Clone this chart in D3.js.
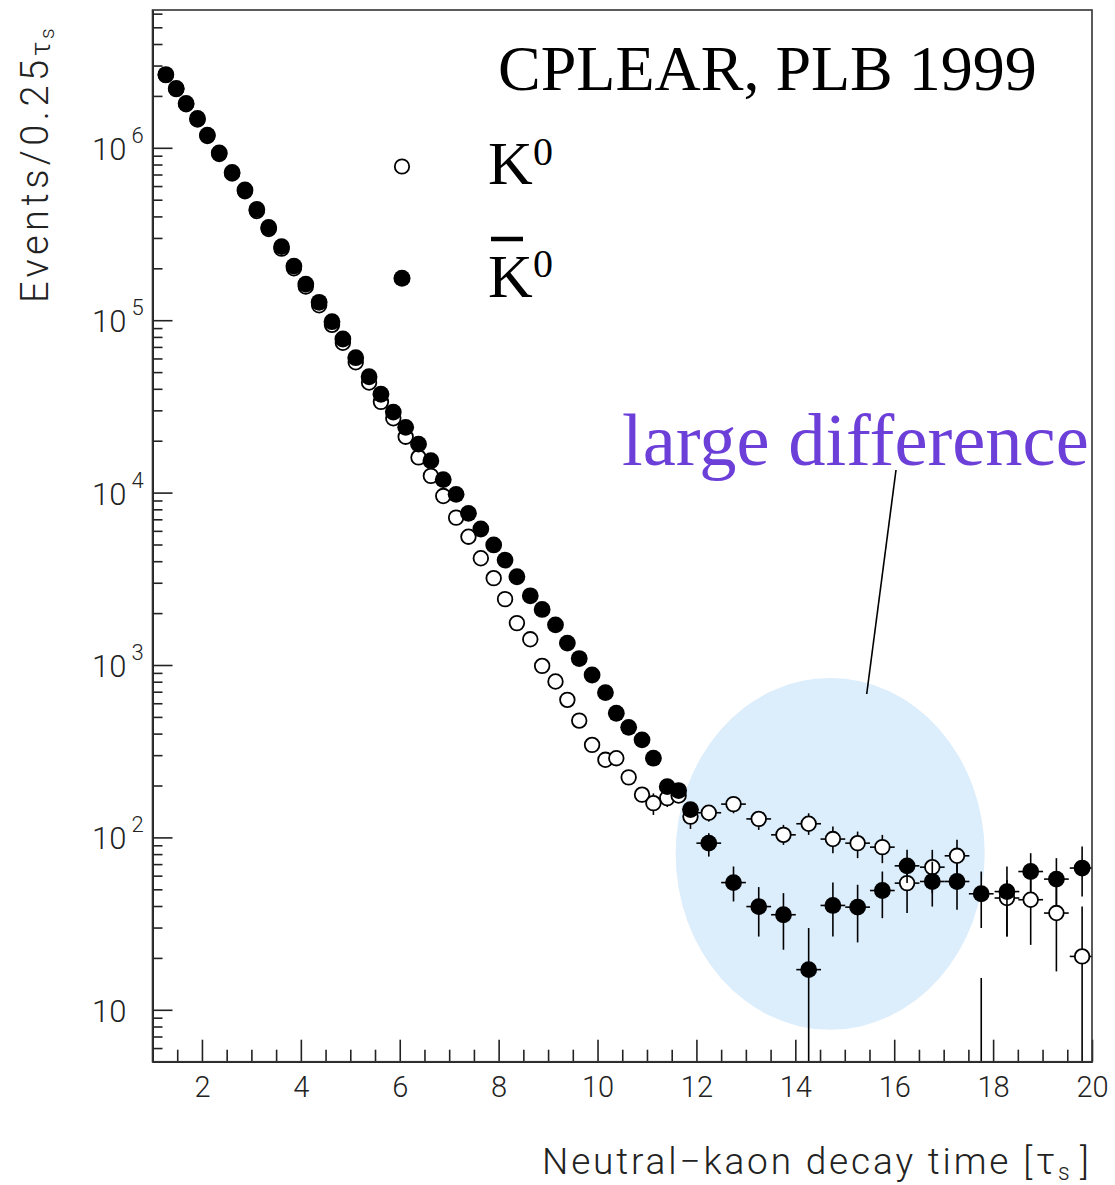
<!DOCTYPE html>
<html>
<head>
<meta charset="utf-8">
<title>CPLEAR neutral-kaon decay time</title>
<style>
    body { margin: 0; padding: 0; background: #fff; }
    svg { display: block; }
</style>
</head>
<body>
<svg width="1115" height="1185"></svg>
<script src="https://d3js.org/d3.v7.min.js"></script>
<script>
// decay-time bins of 0.25 tau_s up to ~12, then 0.5 tau_s
var headT = [1.27, 1.48, 1.68, 1.91, 2.11, 2.35, 2.61, 2.87, 3.11, 3.35, 3.61, 3.86, 4.10, 4.37, 4.63, 4.85,
    5.11, 5.38, 5.62, 5.87, 6.12, 6.38, 6.63, 6.88, 7.14, 7.39, 7.64, 7.90, 8.13, 8.37, 8.64, 8.88,
    9.15, 9.39, 9.63, 9.89, 10.16, 10.38, 10.63, 10.90, 11.13, 11.41, 11.64, 11.88];
var headHalf = 0.125;

var kbarHead = [2.66e6, 2.21e6, 1.81e6, 1.48e6, 1.185e6, 9.35e5, 7.2e5, 5.69e5, 4.39e5, 3.45e5,
    2.67e5, 2.06e5, 1.62e5, 1.27e5, 9.8e4, 7.78e4, 6.06e4, 4.7e4, 3.72e4, 2.93e4,
    2.39e4, 1.91e4, 1.53e4, 1.19e4, 9770, 7580, 6150, 4970, 4060, 3250,
    2520, 2100, 1710, 1340, 1090, 875, 692, 525, 435, 368, 288, 197, 187, 145];

var k0Head = [2.64e6, 2.19e6, 1.79e6, 1.46e6, 1.17e6, 9.2e5, 7.1e5, 5.6e5, 4.3e5, 3.38e5,
    2.6e5, 2.0e5, 1.57e5, 1.22e5, 9.4e4, 7.4e4, 5.7e4, 4.35e4, 3.36e4, 2.70e4,
    2.11e4, 1.60e4, 1.25e4, 9550, 7160, 5550, 4160, 3190, 2410, 1750,
    1410, 988, 802, 628, 476, 344, 282, 288, 223, 177, 158, 169, 175, 132];

// the few K0 error bars in the 0.25 bins that stick out of the markers
var k0HeadBars = [
    {i: 39, lo: 160, hi: 195},
    {i: 40, lo: 135, hi: 180},
    {i: 41, lo: 150, hi: 185},
    {i: 43, lo: 112, hi: 150}
];

var tailT = [12.25, 12.75, 13.26, 13.76, 14.27, 14.76, 15.26, 15.76, 16.26, 16.77, 17.27, 17.76, 18.28, 18.76, 19.28, 19.80];
var tailHalf = 0.25;

var kbarTail   = [92.6, 54.7, 39.7, 35.6, 17.1, 40.3, 39.4, 49.2, 68.4, 55.5, 55.5, 47.1, 48.5, 63.4, 57.3, 66.4];
var kbarTailLo = [77.4, 42.5, 26.6, 22.3, null, 26.6, 24.6, 34.0, 54.3, 39.7, 38.0, 29.8, 26.6, 48.3, 40.6, 45.4];
var kbarTailHi = [105.8, 67.8, 51.5, 47.5, 29.8, 54.7, 53.1, 63.4, 84.7, 72.4, 70.9, 63.4, 67.8, 81.0, 75.8, 88.5];

var k0Tail   = [139, 156, 128, 103.5, 120, 97.8, 92.6, 87.8, 54.3, 67.2, 78.2, null, 44.5, 43.5, 36.4, 20.4];
var k0TailLo = [123.5, 138, 110.6, 90.5, 103.4, 81, 75.8, 70.9, 36.4, 47.5, 54.3, null, 26.6, 23.8, 16.7, null];
var k0TailHi = [154, 172.5, 141, 118.2, 138, 115.6, 108.1, 103.4, 63.4, 84.7, 96.8, 15.3, 56.7, 56.7, 53.1, 39.7];

var xMajor = [2, 4, 6, 8, 10, 12, 14, 16, 18, 20];
var yMajor = [10, 100, 1e3, 1e4, 1e5, 1e6];

// highlighted region, in data units
var blob = {t0: 11.58, t1: 17.83, n0: 7.66, n1: 841};

var FONT = "Roboto, 'Liberation Sans', sans-serif";
var SERIF = "'Liberation Serif', 'Times New Roman', serif";

var svg = d3.select("svg");
var pLeft = 152.5, pRight = 1092, pTop = 10, pBottom = 1061.7;

var x = d3.scaleLinear().domain([1, 20]).range([pLeft, pRight]);
var y = d3.scaleLog().domain([5, 6.3e6]).range([pBottom, pTop]);

svg.append("defs").append("clipPath").attr("id", "plot")
    .append("rect").attr("x", pLeft).attr("y", pTop)
    .attr("width", pRight - pLeft).attr("height", pBottom - pTop);

// light blue ellipse behind the data
var ecx = (x(blob.t0) + x(blob.t1)) / 2, ecy = (y(blob.n0) + y(blob.n1)) / 2;
svg.append("ellipse")
    .attr("cx", ecx).attr("cy", ecy)
    .attr("rx", (x(blob.t1) - x(blob.t0)) / 2)
    .attr("ry", (y(blob.n0) - y(blob.n1)) / 2)
    .attr("fill", "#dcedfc");

function rows(ts, vs, los, his, half) {
    return ts.map(function (t, i) {
        return {t: t, v: vs[i], lo: los ? los[i] : null, hi: his ? his[i] : null, half: half};
    });
}

var k0Rows = rows(headT, k0Head, null, null, headHalf)
    .concat(rows(tailT, k0Tail, k0TailLo, k0TailHi, tailHalf));
k0HeadBars.forEach(function (b) { k0Rows[b.i].lo = b.lo; k0Rows[b.i].hi = b.hi; });
var kbarRows = rows(headT, kbarHead, null, null, headHalf)
    .concat(rows(tailT, kbarTail, kbarTailLo, kbarTailHi, tailHalf));

function yy(v) { return v == null ? pBottom + 20 : y(v); }

var plot = svg.append("g").attr("clip-path", "url(#plot)");

function drawSeries(data, filled) {
    var g = plot.append("g").attr("stroke", "#000").attr("stroke-width", 1.6);
    // vertical error bars
    g.selectAll("line.v")
        .data(data.filter(function (d) { return d.hi != null; }))
        .enter().append("line")
        .attr("x1", function (d) { return x(d.t); })
        .attr("x2", function (d) { return x(d.t); })
        .attr("y1", function (d) { return yy(d.lo); })
        .attr("y2", function (d) { return yy(d.hi); });
    // horizontal bars (bin width)
    g.selectAll("line.h")
        .data(data.filter(function (d) { return d.v != null; }))
        .enter().append("line")
        .attr("x1", function (d) { return x(d.t - d.half); })
        .attr("x2", function (d) { return x(d.t + d.half); })
        .attr("y1", function (d) { return y(d.v); })
        .attr("y2", function (d) { return y(d.v); });
    g.selectAll("circle")
        .data(data.filter(function (d) { return d.v != null; }))
        .enter().append("circle")
        .attr("cx", function (d) { return x(d.t); })
        .attr("cy", function (d) { return y(d.v); })
        .attr("r", filled ? 8.4 : 7.3)
        .attr("fill", filled ? "#000" : "#fff")
        .attr("stroke-width", filled ? 0 : 1.8);
}

drawSeries(k0Rows, false);
drawSeries(kbarRows, true);

// axes, ticks pointing inwards
var axisColor = "#222";
var xMinor = d3.range(1.5, 20, 0.5).filter(function (v) { return xMajor.indexOf(v) < 0; });

var gx = svg.append("g").attr("transform", "translate(0," + pBottom + ")");
gx.append("g").call(d3.axisBottom(x).tickValues(xMinor).tickSizeInner(-12).tickSizeOuter(0).tickFormat(""));
gx.append("g").call(d3.axisBottom(x).tickValues(xMajor).tickSizeInner(-22).tickSizeOuter(0)
    .tickPadding(15).tickFormat(d3.format("d")));
gx.selectAll("g").attr("font-family", FONT).attr("font-size", 29).attr("color", axisColor);
gx.selectAll("text").attr("font-weight", 300);

var yMinor = y.ticks().filter(function (v) {
    var l = Math.log10(v);
    return Math.abs(l - Math.round(l)) > 1e-6;
});
var gy = svg.append("g").attr("transform", "translate(" + pLeft + ",0)");
gy.append("g").call(d3.axisLeft(y).tickValues(yMinor).tickSizeInner(-10).tickSizeOuter(0).tickFormat(""));
gy.append("g").call(d3.axisLeft(y).tickValues(yMajor).tickSizeInner(-20).tickSizeOuter(0).tickFormat(""));
gy.selectAll("g").attr("color", axisColor);
svg.selectAll(".tick line").attr("stroke-width", 1.6);
svg.selectAll(".domain").attr("stroke-width", 1.8);

// 10^n labels
var ylab = svg.append("g").attr("font-family", FONT).attr("font-weight", 300).attr("fill", axisColor);
ylab.selectAll("text.base").data(yMajor).enter().append("text")
    .attr("x", pLeft - 26).attr("y", function (d) { return y(d) + 12; })
    .attr("text-anchor", "end").attr("font-size", 31).text("10");
ylab.selectAll("text.exp").data(yMajor.filter(function (d) { return d > 10; })).enter().append("text")
    .attr("x", pLeft - 21).attr("y", function (d) { return y(d) - 5; })
    .attr("font-size", 22).text(function (d) { return Math.round(Math.log10(d)); });

// frame
svg.append("rect")
    .attr("x", pLeft).attr("y", pTop)
    .attr("width", pRight - pLeft).attr("height", pBottom - pTop)
    .attr("fill", "none").attr("stroke", "#333").attr("stroke-width", 1.6);

// axis titles
var xt = svg.append("g").attr("font-family", FONT).attr("font-weight", 300).attr("fill", axisColor);
xt.append("text").attr("x", 542).attr("y", 1174).attr("font-size", 37)
    .attr("textLength", 490).attr("lengthAdjust", "spacing")
    .text("Neutral\u2212kaon decay time [");
xt.append("text").attr("x", 1036).attr("y", 1174).attr("font-size", 37).text("\u03c4");
xt.append("text").attr("x", 1058).attr("y", 1180).attr("font-size", 23).text("s");
xt.append("text").attr("x", 1080).attr("y", 1174).attr("font-size", 37).text("]");

var yt = svg.append("g").attr("font-family", FONT).attr("font-weight", 300).attr("fill", axisColor)
    .attr("transform", "translate(48.3,303) rotate(-90)");
yt.append("text").attr("x", 0).attr("y", 0).attr("font-size", 38)
    .attr("textLength", 243).attr("lengthAdjust", "spacing")
    .text("Events/0.25");
yt.append("text").attr("x", 247).attr("y", 2).attr("font-size", 28).text("\u03c4");
yt.append("text").attr("x", 264).attr("y", 6).attr("font-size", 21).text("s");

// title and legend
svg.append("text").attr("x", 498).attr("y", 90)
    .attr("font-family", SERIF).attr("font-size", 64).attr("fill", "#000")
    .text("CPLEAR, PLB 1999");

var legend = svg.append("g").attr("font-family", SERIF).attr("fill", "#000");
legend.append("circle").attr("cx", 402).attr("cy", 166.5).attr("r", 7.2)
    .attr("fill", "#fff").attr("stroke", "#000").attr("stroke-width", 1.8);
legend.append("circle").attr("cx", 402).attr("cy", 278.3).attr("r", 8.5).attr("fill", "#000");
legend.append("text").attr("x", 488).attr("y", 184.3).attr("font-size", 62).text("K");
legend.append("text").attr("x", 533).attr("y", 165).attr("font-size", 40).text("0");
legend.append("text").attr("x", 488).attr("y", 296.7).attr("font-size", 62).text("K");
legend.append("text").attr("x", 533).attr("y", 276.7).attr("font-size", 40).text("0");
legend.append("line").attr("x1", 491).attr("x2", 523).attr("y1", 239).attr("y2", 239)
    .attr("stroke", "#000").attr("stroke-width", 4.5);

// annotation
svg.append("text").attr("x", 622).attr("y", 465)
    .attr("font-family", SERIF).attr("font-size", 74.5).attr("fill", "#6c3fd9")
    .text("large difference");
svg.append("line").attr("x1", 896).attr("y1", 470).attr("x2", 866.7).attr("y2", 694)
    .attr("stroke", "#000").attr("stroke-width", 1.6);
</script>
</body>
</html>
